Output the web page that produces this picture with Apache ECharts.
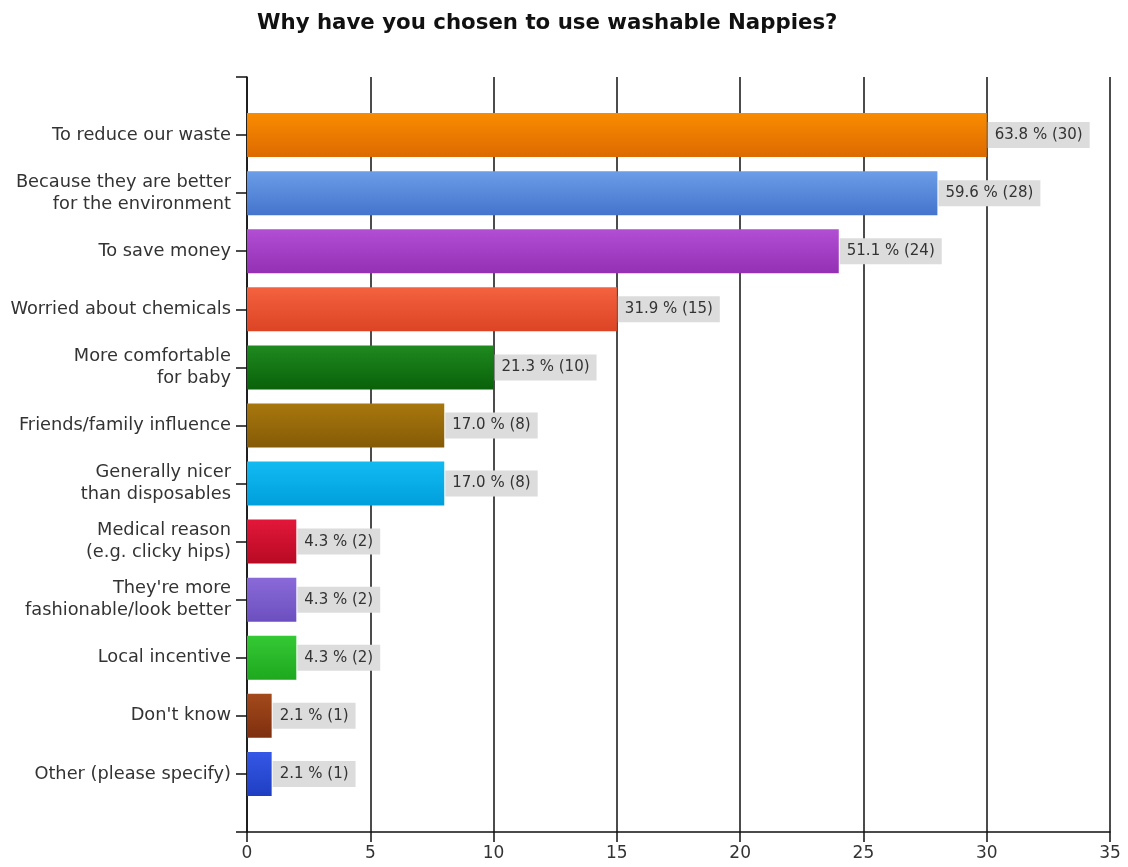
<!DOCTYPE html>
<html>
<head>
<meta charset="utf-8">
<title>Why have you chosen to use washable Nappies?</title>
<script src="https://cdn.jsdelivr.net/npm/echarts@6/dist/echarts.min.js"></script>
<style>
  html, body { margin: 0; padding: 0; background: #ffffff; }
  #chart { width: 1128px; height: 867px; }
</style>
</head>
<body>
<div id="chart"></div>
<script>
// Survey answers, listed top to bottom
const categories = [
  'To reduce our waste',
  'Because they are better\nfor the environment',
  'To save money',
  'Worried about chemicals',
  'More comfortable\nfor baby',
  'Friends/family influence',
  'Generally nicer\nthan disposables',
  'Medical reason\n(e.g. clicky hips)',
  "They're more\nfashionable/look better",
  'Local incentive',
  "Don't know",
  'Other (please specify)'
];
// Number of respondents per answer
const counts = [30, 28, 24, 15, 10, 8, 8, 2, 2, 2, 1, 1];
// Share of respondents, in percent
const percents = [63.8, 59.6, 51.1, 31.9, 21.3, 17.0, 17.0, 4.3, 4.3, 4.3, 2.1, 2.1];
// Bar fill: light top, darker bottom
const colorsTop = ['#fa8c00', '#6b9de8', '#b24ed3', '#f4623f', '#1f8a1f', '#a8780e', '#12baf2', '#e2173a', '#8a6ad8', '#35c935', '#a44a1c', '#3558e6'];
const colorsBottom = ['#dc6a00', '#4474cc', '#9430b4', '#dc4424', '#096109', '#855a06', '#009fdc', '#b80a24', '#6c4fbf', '#1ea81e', '#7e2f0e', '#1f3ec2'];
// Value axis ticks
const xMin = 0, xMax = 35, xStep = 5;

const chart = echarts.init(document.getElementById('chart'), null, { renderer: 'canvas' });

// padded with an empty slot at each end so the axis runs past the first and last bar
const yCats = [''].concat(categories, ['']);
const barData = ['-'].concat(counts.map((v, i) => ({
  value: v,
  pct: percents[i],
  itemStyle: {
    color: new echarts.graphic.LinearGradient(0, 0, 0, 1, [
      { offset: 0, color: colorsTop[i] },
      { offset: 1, color: colorsBottom[i] }
    ])
  }
})), ['-']);

const fontFamily = '"DejaVu Sans", Verdana, sans-serif';

chart.setOption({
  backgroundColor: '#ffffff',
  animation: false,
  title: {
    text: 'Why have you chosen to use washable Nappies?',
    left: 252,
    top: 8,
    textStyle: { fontFamily: fontFamily, fontSize: 21.3, fontWeight: 'bold', color: '#111111' }
  },
  grid: { left: 247, right: 18, top: 77, bottom: 35, containLabel: false },
  xAxis: {
    type: 'value',
    min: xMin,
    max: xMax,
    interval: xStep,
    axisLine: { show: true, lineStyle: { color: '#111111', width: 1.5 } },
    axisTick: { show: true, length: 10, lineStyle: { color: '#111111', width: 1.5 } },
    splitLine: { show: true, lineStyle: { color: '#111111', width: 1.5 } },
    axisLabel: { fontFamily: fontFamily, fontSize: 17, color: '#333333', margin: 13 }
  },
  yAxis: {
    type: 'category',
    data: yCats,
    inverse: true,
    boundaryGap: false,
    axisLine: { show: true, lineStyle: { color: '#111111', width: 1.5 } },
    axisTick: { show: true, length: 11, lineStyle: { color: '#111111', width: 1.5 } },
    splitLine: { show: false },
    axisLabel: {
      fontFamily: fontFamily,
      fontSize: 17.8,
      color: '#333333',
      margin: 16,
      lineHeight: 22,
      align: 'right'
    }
  },
  series: [{
    type: 'bar',
    data: barData,
    barWidth: 44,
    label: {
      show: true,
      position: 'right',
      distance: 1,
      fontFamily: fontFamily,
      fontSize: 15,
      color: '#333333',
      backgroundColor: '#dcdcdc',
      padding: [6, 7, 5, 7],
      formatter: p => p.data.pct.toFixed(1) + ' % (' + p.data.value + ')'
    }
  }]
});
</script>
</body>
</html>
